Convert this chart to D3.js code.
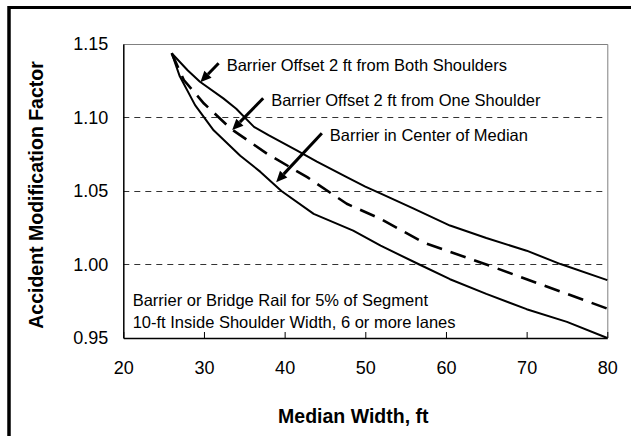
<!DOCTYPE html>
<html>
<head>
<meta charset="utf-8">
<script src="https://cdn.jsdelivr.net/npm/d3@7"></script>
<style>
  html, body { margin: 0; padding: 0; background: #fff; }
  svg { display: block; font-family: "Liberation Sans", Arial, sans-serif; }
</style>
</head>
<body>
<svg id="chart" width="631" height="436"></svg>
<script>
// ---------------- data ----------------
const xTicks = [20, 30, 40, 50, 60, 70, 80];
const yTicks = [0.95, 1.00, 1.05, 1.10, 1.15];
const gridValues = [1.00, 1.05, 1.10];

const bothX = [26, 28, 29.5, 32.4, 34, 36.2, 38, 41.5, 44, 47.7, 50, 52, 56, 60.5, 65, 70, 74.2, 80];
const bothY = [1.1437, 1.132, 1.1243, 1.113, 1.106, 1.0936, 1.088, 1.0777, 1.070, 1.0594, 1.053, 1.048, 1.038, 1.0265, 1.018, 1.0094, 1.0003, 0.9894];

const oneX = [26, 27.5, 30, 33.3, 37.8, 42.8, 47.7, 51.9, 57.2, 65.5, 70, 75, 80];
const oneY = [1.1437, 1.1255, 1.1095, 1.0925, 1.0754, 1.0594, 1.0413, 1.031, 1.015, 0.999, 0.990, 0.980, 0.970];

const centerX = [26, 27, 28.9, 31.2, 34.5, 37, 39.6, 43.6, 48.5, 51.9, 56.7, 60.5, 65, 70, 75, 80];
const centerY = [1.1437, 1.128, 1.1084, 1.0913, 1.074, 1.063, 1.050, 1.0344, 1.023, 1.0128, 1.000, 0.990, 0.980, 0.9696, 0.961, 0.950];

const annoLabels = ["Barrier Offset 2 ft from Both Shoulders", "Barrier Offset 2 ft from One Shoulder", "Barrier in Center of Median"];
const annoTipX = [29.55, 33.5, 38.95];
const annoTipY = [1.124, 1.0915, 1.056];

const noteLines = ["Barrier or Bridge Rail for 5% of Segment", "10-ft Inside Shoulder Width, 6 or more lanes"];
const xTitle = "Median Width, ft";
const yTitle = "Accident Modification Factor";

// ---------------- layout ----------------
const plot = { left: 123.3, right: 607.3, top: 44, bottom: 338 };
const annoOffsets = [[18.3, -19], [31, -31.7], [45.7, -49]];

const svg = d3.select("#chart");
const x = d3.scaleLinear().domain([20, 80]).range([plot.left, plot.right]);
const y = d3.scaleLinear().domain([0.95, 1.15]).range([plot.bottom, plot.top]);

// outer frame (top & left visible)
svg.append("line").attr("x1", 9).attr("x2", 631).attr("y1", 7.5).attr("y2", 7.5)
  .attr("stroke", "#000").attr("stroke-width", 3);
svg.append("line").attr("x1", 9).attr("x2", 9).attr("y1", 6).attr("y2", 436)
  .attr("stroke", "#000").attr("stroke-width", 3.5);

// gridlines
svg.append("g").selectAll("line").data(gridValues).join("line")
  .attr("x1", plot.left).attr("x2", plot.right)
  .attr("y1", d => Math.round(y(d)) + 0.5).attr("y2", d => Math.round(y(d)) + 0.5)
  .attr("stroke", "#333").attr("stroke-width", 1).attr("stroke-dasharray", "6,5");

// plot border top/right
svg.append("path")
  .attr("d", `M${plot.left},${plot.top + 0.5}H${plot.right + 0.5}V${plot.bottom}`)
  .attr("fill", "none").attr("stroke", "#808080").attr("stroke-width", 1);

// axes
const xAxis = d3.axisBottom(x).tickValues(xTicks).tickSizeInner(-6).tickSizeOuter(0).tickPadding(23)
  .tickFormat(d3.format("d"));
const gx = svg.append("g").attr("transform", `translate(0,${plot.bottom})`).call(xAxis);
gx.select(".domain").attr("stroke", "#000").attr("stroke-width", 1.5);
gx.selectAll(".tick line").attr("stroke", "#000");
gx.selectAll(".tick text").attr("font-size", 18).attr("fill", "#000")
  .attr("font-family", "'Liberation Sans', Arial, sans-serif");

const yAxis = d3.axisLeft(y).tickValues(yTicks).tickSize(0).tickPadding(15).tickFormat(d3.format(".2f"));
const gy = svg.append("g").attr("transform", `translate(${plot.left},0)`).call(yAxis);
gy.select(".domain").attr("stroke", "#000").attr("stroke-width", 1.5);
gy.selectAll(".tick text").attr("font-size", 18).attr("fill", "#000")
  .attr("font-family", "'Liberation Sans', Arial, sans-serif");

// series
const line = d3.line().x(d => x(d[0])).y(d => y(d[1])).curve(d3.curveLinear);
const series = [
  { xs: bothX, ys: bothY, dash: null, w: 2 },
  { xs: oneX, ys: oneY, dash: "16,9", w: 2.6 },
  { xs: centerX, ys: centerY, dash: null, w: 2 }
];
svg.append("g").selectAll("path").data(series).join("path")
  .attr("d", s => line(s.xs.map((v, i) => [v, s.ys[i]])))
  .attr("fill", "none").attr("stroke", "#000")
  .attr("stroke-width", s => s.w)
  .attr("stroke-linejoin", "round")
  .attr("stroke-dasharray", s => s.dash);

// annotations
const ag = svg.append("g");
annoLabels.forEach((label, i) => {
  const tx = x(annoTipX[i]), ty = y(annoTipY[i]);
  const sx = tx + annoOffsets[i][0], sy = ty + annoOffsets[i][1];
  const ang = Math.atan2(ty - sy, tx - sx);
  const L = 11, W = 5;
  const bx = tx - L * Math.cos(ang), by = ty - L * Math.sin(ang);
  ag.append("line").attr("x1", sx).attr("y1", sy).attr("x2", bx).attr("y2", by)
    .attr("stroke", "#000").attr("stroke-width", 3);
  const px = -Math.sin(ang), py = Math.cos(ang);
  ag.append("path")
    .attr("d", `M${tx},${ty}L${bx + W * px},${by + W * py}L${bx - W * px},${by - W * py}Z`)
    .attr("fill", "#000");
  ag.append("text").attr("x", sx + 8).attr("y", sy + 7.5)
    .attr("font-size", 16.5).attr("fill", "#000").text(label);
});

// note
svg.append("g").selectAll("text").data(noteLines).join("text")
  .attr("x", 132.7).attr("y", (d, i) => 306 + i * 21.7)
  .attr("font-size", 16.5).attr("fill", "#000").text(d => d);

// titles
svg.append("text").attr("x", (plot.left + plot.right) / 2 - 12).attr("y", 423)
  .attr("text-anchor", "middle").attr("font-size", 19.5).attr("font-weight", "bold").text(xTitle);
svg.append("text").attr("transform", `translate(43,${(plot.top + plot.bottom) / 2 + 4}) rotate(-90)`)
  .attr("text-anchor", "middle").attr("font-size", 19.5).attr("font-weight", "bold").text(yTitle);
</script>
</body>
</html>
